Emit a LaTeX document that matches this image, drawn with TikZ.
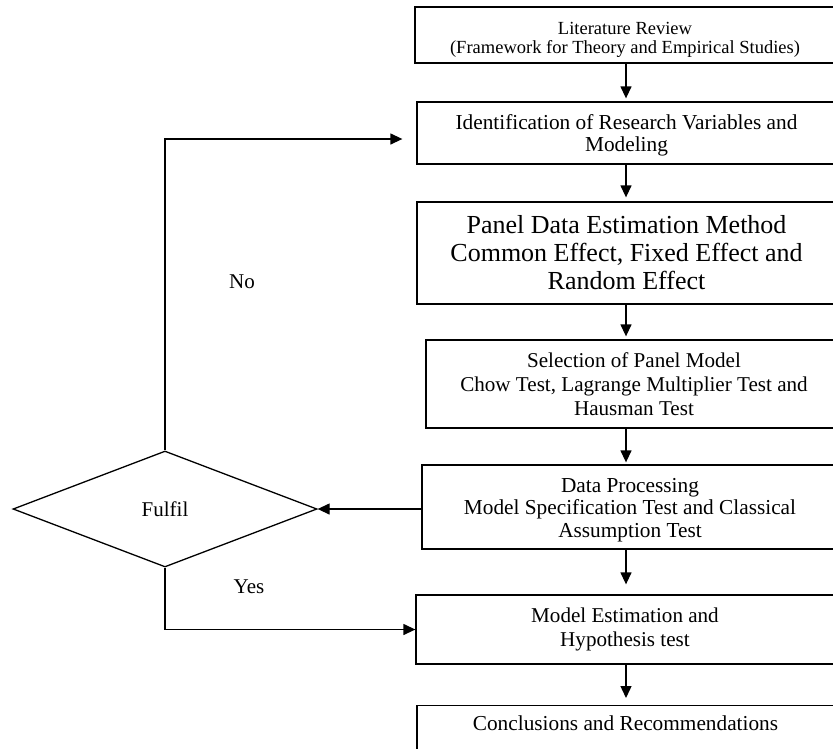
\documentclass[tikz,border=0pt]{standalone}
\usepackage{fontspec}
\setmainfont{Liberation Serif}
\usetikzlibrary{shapes.geometric, arrows.meta, positioning}

\begin{document}
\begin{tikzpicture}[
    x=1pt, y=-1pt,
    block/.style={rectangle, draw, line width=1.3pt, align=center, inner sep=0pt, font=\fontsize{21.3}{22.5}\selectfont},
    decision/.style={diamond, draw, line width=1.3pt, aspect=2.62, inner sep=0pt, minimum width=304pt, minimum height=116pt, font=\fontsize{21}{22}\selectfont},
    arrow/.style={-{Triangle[length=12pt, width=11pt]}, line width=1.3pt},
    tag/.style={font=\fontsize{21}{22}\selectfont}
]
    \clip (0,0) rectangle (833,748);
    \coordinate (spine) at (626,0);

    \node[block, minimum width=420pt, minimum height=56pt, font=\fontsize{18.5}{19}\selectfont] (review) at (625,35) {\rule{0pt}{22pt}Literature Review\\(Framework for Theory and Empirical Studies)};
    \node[block, minimum width=419pt, minimum height=62pt] (ident) at (626.5,133) {\rule{0pt}{19.5pt}Identification of Research Variables and\\Modeling};
    \node[block, minimum width=419pt, minimum height=102pt, font=\fontsize{26}{28}\selectfont] (estim) at (626.5,253) {Panel Data Estimation Method\\Common Effect, Fixed Effect and\\Random Effect};
    \node[block, minimum width=416pt, minimum height=88pt, font=\fontsize{21.1}{24}\selectfont] (select) at (634,384) {Selection of Panel Model\\Chow Test, Lagrange Multiplier Test and\\Hausman Test};
    \node[block, minimum width=416pt, minimum height=84pt] (process) at (630,507) {\rule{0pt}{20.5pt}Data Processing\\Model Specification Test and Classical\\Assumption Test};
    \node[block, minimum width=418pt, minimum height=69pt, font=\fontsize{21.1}{24}\selectfont] (model) at (625,629.5) {Model Estimation and\\Hypothesis test};
    \node[block, anchor=north, minimum width=417pt, text height=25pt, text depth=25pt] (concl) at (625.5,705) {Conclusions and Recommendations};

    \node[decision] (fulfil) at (165,509) {Fulfil};

    \node[tag] (no) at (242,282) {No};
    \node[tag] (yes) at (249,587) {Yes};

    % main line
    \draw[arrow, shorten >=3pt] (review.south -| spine) -- (ident.north -| spine);
    \draw[arrow, shorten >=4pt] (ident.south -| spine) -- (estim.north -| spine);
    \draw[arrow, shorten >=3pt] (estim.south -| spine) -- (select.north -| spine);
    \draw[arrow, shorten >=2pt] (select.south -| spine) -- (process.north -| spine);
    \draw[arrow, shorten >=10pt] (process.south -| spine) -- (model.north -| spine);
    \draw[arrow, shorten >=7pt] (model.south -| spine) -- (concl.north -| spine);

    % decision loop
    \draw[arrow] (process.west |- fulfil.east) -- (fulfil.east);
    \draw[arrow] (fulfil.north) |- ([xshift=-14pt, yshift=-6pt]ident.west);
    \draw[arrow] (fulfil.south) |- (model.west);
\end{tikzpicture}
\end{document}
